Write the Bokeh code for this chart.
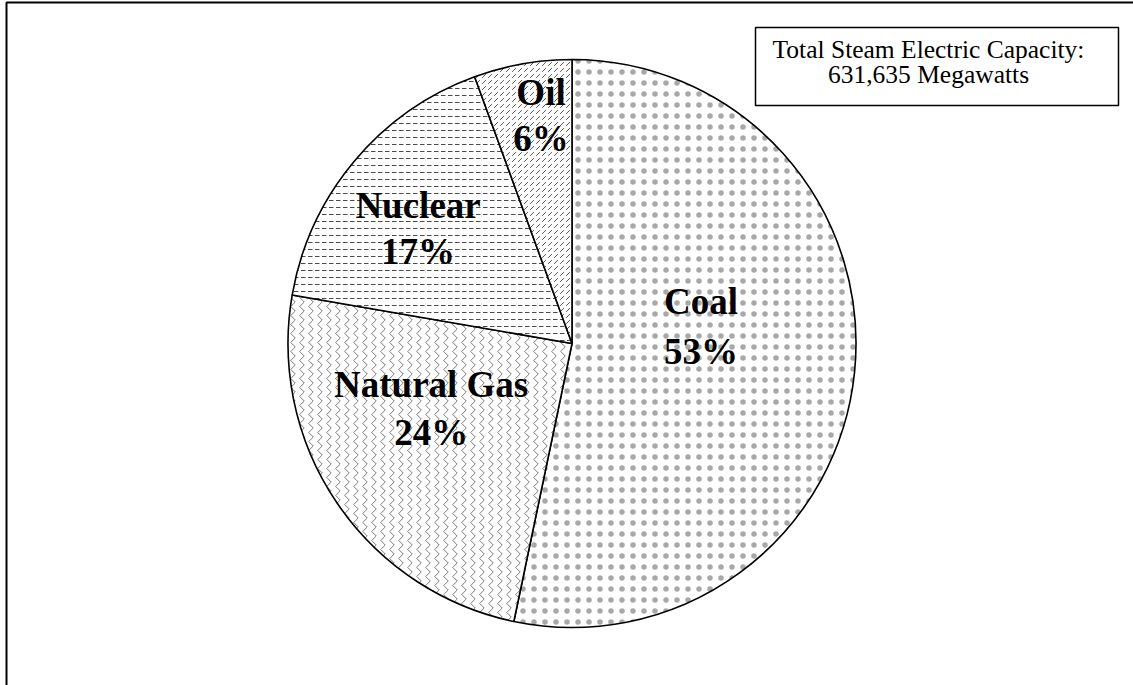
import math

from bokeh.core.properties import value
from bokeh.embed import file_html
from bokeh.models import ColumnDataSource
from bokeh.plotting import figure
from bokeh.resources import INLINE

# Steam electric generating capacity by fuel (megawatts)
fuels = ["Coal", "Natural Gas", "Nuclear", "Oil"]
capacity_mw = [336550, 154400, 105500, 35185]

W, H = 1133, 685

# pie geometry (canvas units, y measured upward)
CX, CY, R = 571.5, H - 343, 284

# label block centres as fractions of the radius, relative to the pie centre
label_offsets = [(0.454, 0.060), (-0.496, -0.229), (-0.542, 0.405), (-0.109, 0.803)]
line_gaps = [50, 48, 46, 46]

hatches = [
    dict(hatch_pattern="dot", hatch_scale=11, hatch_color="#a8a8a8", hatch_weight=1),
    dict(hatch_pattern="vertical_wave", hatch_scale=9, hatch_color="#7a7a7a", hatch_weight=1),
    dict(hatch_pattern="horizontal_dash", hatch_scale=7, hatch_color="#4a4a4a", hatch_weight=1),
    dict(hatch_pattern="right_diagonal_dash", hatch_scale=6, hatch_color="#555555", hatch_weight=1),
]

total = sum(capacity_mw)
shares = [v / total for v in capacity_mw]

p = figure(width=W, height=H, x_range=(0, W), y_range=(0, H),
           x_axis_type=None, y_axis_type=None, min_border=0,
           toolbar_location=None, output_backend="svg",
           background_fill_color="white", border_fill_color="white",
           outline_line_color=None)
p.grid.visible = False

# chart-area frame (top and left edges show)
p.quad(left=6, right=W + 50, top=H - 2, bottom=-50, fill_color=None,
       line_color="black", line_width=2)

# slices, clockwise from 12 o'clock
cum = 0.0
for name, share, hatch in zip(fuels, shares, hatches):
    start = math.pi / 2 - 2 * math.pi * cum
    end = math.pi / 2 - 2 * math.pi * (cum + share)
    p.wedge(x=CX, y=CY, radius=R, start_angle=start, end_angle=end,
            direction="clock", fill_color="white", line_color="black",
            line_width=1.6, **hatch)
    cum += share

# slice labels: name and rounded percentage
lab_x, lab_y, lab_t = [], [], []
for name, share, (ox, oy), gap in zip(fuels, shares, label_offsets, line_gaps):
    bx, by = CX + ox * R, CY + oy * R
    lab_x += [bx, bx]
    lab_y += [by + gap / 2, by - gap / 2]
    lab_t += [name, f"{round(share * 100)}%"]
p.text(x=lab_x, y=lab_y, text=lab_t, text_font=value("Liberation Serif"),
       text_font_style="bold", text_font_size="37px", text_color="black",
       text_align="center", text_baseline="middle")

# total capacity note
p.quad(left=755, right=1118, top=H - 27, bottom=H - 105, fill_color="white",
       line_color="black", line_width=1.5)
note = ["Total Steam Electric Capacity:", f"{total:,} Megawatts"]
p.text(x=[928, 928], y=[H - 48.5, H - 73.5], text=note,
       text_font=value("Liberation Serif"), text_font_size="25.5px",
       text_color="black", text_align="center", text_baseline="middle")

open("out.html", "w").write(file_html(p, INLINE))
